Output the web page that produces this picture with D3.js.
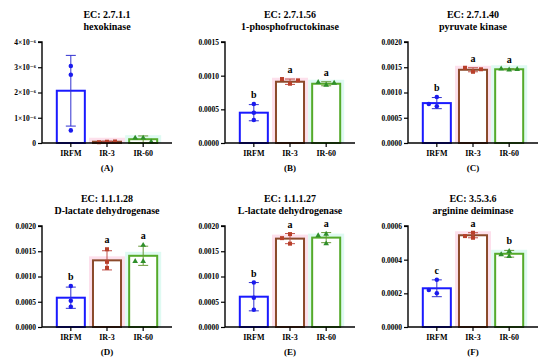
<!DOCTYPE html>
<html>
<head>
<meta charset="utf-8">
<script src="https://cdn.jsdelivr.net/npm/d3@7"></script>
<style>
  body { margin: 0; background: #fff; }
  svg text { font-family: "Liberation Serif", "DejaVu Serif", serif !important; font-weight: bold; }
</style>
</head>
<body>
<svg id="chart" width="550" height="363"></svg>
<script>
// groups on the x axis
const groups = ["IRFM", "IR-3", "IR-60"];

// one entry per panel, A to F
const ecNumbers = ["EC: 2.7.1.1", "EC: 2.7.1.56", "EC: 2.7.1.40", "EC: 1.1.1.28", "EC: 1.1.1.27", "EC: 3.5.3.6"];
const enzymeNames = ["hexokinase", "1-phosphofructokinase", "pyruvate kinase", "D-lactate dehydrogenase", "L-lactate dehydrogenase", "arginine deiminase"];
const panelTags = ["(A)", "(B)", "(C)", "(D)", "(E)", "(F)"];

const yTicks = [
  [0, 1e-6, 2e-6, 3e-6, 4e-6],
  [0, 0.0005, 0.0010, 0.0015],
  [0, 0.0005, 0.0010, 0.0015, 0.0020],
  [0, 0.0005, 0.0010, 0.0015, 0.0020],
  [0, 0.0005, 0.0010, 0.0015, 0.0020],
  [0, 0.0002, 0.0004, 0.0006]
];
const yTickLabelsA = ["0", "1×10⁻⁶", "2×10⁻⁶", "3×10⁻⁶", "4×10⁻⁶"];

// bar heights (mean) per panel, per group
const meanValues = [
  [2.07e-6, 0.05e-6, 0.15e-6],
  [0.00045, 0.00091, 0.00088],
  [0.00079, 0.00145, 0.00146],
  [0.00058, 0.00132, 0.00141],
  [0.00060, 0.00175, 0.00177],
  [0.00023, 0.000545, 0.000435]
];
// standard deviations
const sdValues = [
  [1.4e-6, 0.02e-6, 0.13e-6],
  [0.00012, 0.00004, 0.00003],
  [0.00011, 0.00004, 0.00001],
  [0.00021, 0.00019, 0.00019],
  [0.00028, 0.00010, 0.00010],
  [0.00005, 0.000015, 0.00002]
];
// replicates
const replicates = [
  [[3.05e-6, 2.7e-6, 0.5e-6], [0.05e-6, 0.03e-6, 0.06e-6], [0.2e-6, 0.2e-6, 0.05e-6]],
  [[0.00058, 0.00045, 0.00034], [0.00088, 0.00095, 0.00093], [0.00086, 0.00090, 0.00089]],
  [[0.00091, 0.00073, 0.00077], [0.00141, 0.00149, 0.00146], [0.00145, 0.00147, 0.00146]],
  [[0.00081, 0.00052, 0.00040], [0.00154, 0.00129, 0.00117], [0.00162, 0.00130, 0.00130]],
  [[0.00088, 0.00058, 0.00034], [0.00184, 0.00176, 0.00165], [0.00184, 0.00181, 0.00165]],
  [[0.00028, 0.00020, 0.00022], [0.00053, 0.00056, 0.00054], [0.00042, 0.00045, 0.00043]]
];
// significance letters
const sigLetters = [
  ["", "", ""],
  ["b", "a", "a"],
  ["b", "a", "a"],
  ["b", "a", "a"],
  ["b", "a", "a"],
  ["c", "a", "b"]
];

const barColor = { "IRFM": "#1a1aff", "IR-3": "#8b4a2b", "IR-60": "#55aa2a" };
const haloColor = { "IRFM": null, "IR-3": "#fde0ec", "IR-60": "#dffaf2" };
const dotColor = { "IRFM": "#1a1aee", "IR-3": "#b8402a", "IR-60": "#2f8f2a" };
const errColor = { "IRFM": "#3030d0", "IR-3": "#c0504a", "IR-60": "#6a9a3a" };
const symbolType = { "IRFM": d3.symbolCircle, "IR-3": d3.symbolSquare, "IR-60": d3.symbolTriangle };

const FONT = '"Liberation Serif", "DejaVu Serif", serif';

const svg = d3.select("#chart").attr("font-family", FONT);
svg.append("rect").attr("width", 550).attr("height", 363).attr("fill", "#fff");

const colX = [0, 183, 366];
const rowY = [0, 184];

ecNumbers.forEach((ec, p) => {
  const ox = colX[p % 3];
  const oy = rowY[Math.floor(p / 3)];
  const g = svg.append("g").attr("transform", `translate(${ox},${oy})`);

  const axisLeft = 42, axisRight = 172, top = 42, bottom = 143;
  const ticks = yTicks[p];

  const y = d3.scaleLinear().domain([0, ticks[ticks.length - 1]]).range([bottom, top]);
  const x = d3.scaleBand().domain(groups).range([54, 160]).paddingInner(0.17).paddingOuter(0.05);

  // titles
  g.append("text").attr("x", (axisLeft + axisRight) / 2).attr("y", 18)
    .attr("text-anchor", "middle").attr("font-size", 10).text(ec);
  g.append("text").attr("x", (axisLeft + axisRight) / 2).attr("y", 30)
    .attr("text-anchor", "middle").attr("font-size", 10).text(enzymeNames[p]);

  // bars
  groups.forEach((grp, i) => {
    const bx = x(grp), bw = x.bandwidth();
    const by = y(meanValues[p][i]);
    if (haloColor[grp]) {
      g.append("rect")
        .attr("x", bx - 3).attr("y", by - 4)
        .attr("width", bw + 6).attr("height", bottom - by + 4)
        .attr("fill", haloColor[grp]);
    }
    g.append("rect")
      .attr("x", bx + 1).attr("y", by)
      .attr("width", bw - 2).attr("height", Math.max(0, bottom - by))
      .attr("fill", "#fff")
      .attr("stroke", barColor[grp]).attr("stroke-width", 2);
  });

  // error bars
  groups.forEach((grp, i) => {
    const cx = x(grp) + x.bandwidth() / 2;
    const m = meanValues[p][i], s = sdValues[p][i];
    const lo = y(Math.max(0, m - s)), hi = y(m + s);
    const eg = g.append("g").attr("stroke", errColor[grp]).attr("stroke-width", 1);
    eg.append("line").attr("x1", cx).attr("x2", cx).attr("y1", lo).attr("y2", hi);
    eg.append("line").attr("x1", cx - 5).attr("x2", cx + 5).attr("y1", hi).attr("y2", hi);
    eg.append("line").attr("x1", cx - 5).attr("x2", cx + 5).attr("y1", lo).attr("y2", lo);
  });

  // replicate points, spread sideways when they overlap
  groups.forEach((grp, i) => {
    const cx = x(grp) + x.bandwidth() / 2;
    const placed = [];
    replicates[p][i].forEach(v => {
      const py = y(v);
      let dx = 0;
      for (const cand of [0, -8, 8, -14, 14]) {
        if (placed.every(q => Math.abs(q.dx - cand) > 5 || Math.abs(q.py - py) > 5)) { dx = cand; break; }
      }
      placed.push({ dx, py });
      g.append("path")
        .attr("d", d3.symbol().type(symbolType[grp]).size(grp === "IR-60" ? 14 : 16)())
        .attr("transform", `translate(${cx + dx},${py})`)
        .attr("fill", dotColor[grp]);
    });
  });

  // significance letters
  groups.forEach((grp, i) => {
    if (!sigLetters[p][i]) return;
    const cx = x(grp) + x.bandwidth() / 2;
    const topVal = Math.max(meanValues[p][i] + sdValues[p][i], d3.max(replicates[p][i]));
    g.append("text").attr("x", cx).attr("y", y(topVal) - 6)
      .attr("text-anchor", "middle").attr("font-size", 10).text(sigLetters[p][i]);
  });

  // y axis
  const yAxis = d3.axisLeft(y).tickValues(ticks).tickSize(4).tickPadding(2)
    .tickFormat((d, k) => p === 0 ? yTickLabelsA[k] : d3.format(".4f")(d));
  const ya = g.append("g").attr("transform", `translate(${axisLeft},0)`).call(yAxis);
  ya.attr("font-family", FONT);
  ya.selectAll("text").attr("font-size", 7.5).attr("fill", "#000");
  ya.selectAll("line").attr("stroke-width", 1.2);
  ya.select(".domain").attr("stroke-width", 1.4).attr("d", `M-4,${top}H0V${bottom}`);

  // x axis
  const xa = g.append("g").attr("transform", `translate(0,${bottom})`)
    .call(d3.axisBottom(x).tickSize(4).tickPadding(3));
  xa.attr("font-family", FONT);
  xa.select(".domain").attr("stroke-width", 1.4).attr("d", `M${axisLeft},0H${axisRight}`);
  xa.selectAll("line").attr("stroke-width", 1.2);
  xa.selectAll("text").attr("font-size", 8).attr("fill", "#000");

  g.append("text").attr("x", 107).attr("y", 171)
    .attr("text-anchor", "middle").attr("font-size", 9).text(panelTags[p]);
});
</script>
</body>
</html>
